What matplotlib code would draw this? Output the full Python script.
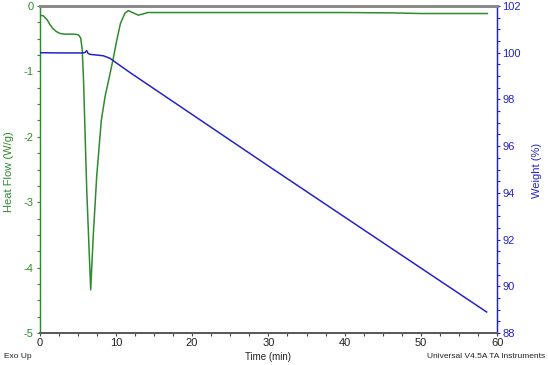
import matplotlib
matplotlib.use("Agg")
import matplotlib.pyplot as plt
from matplotlib.ticker import MultipleLocator

plt.rcParams['font.family'] = ['Liberation Sans', 'DejaVu Sans']

# Heat flow (W/g) vs time (min)
hf_time = [0.0, 0.5, 1.0, 1.4, 1.8, 2.2, 2.7, 3.2, 4.5, 5.1, 5.4, 5.6, 5.77,
           6.19, 6.71, 7.05, 7.5, 8.1, 8.6, 9.2, 9.67, 10.1, 10.6, 11.2, 11.64,
           12.2, 12.95, 13.6, 14.2, 15.0, 20.0, 30.0, 40.0, 46.0, 50.0, 58.7]
hf_vals = [-0.14, -0.15, -0.21, -0.29, -0.35, -0.39, -0.42, -0.43, -0.43,
           -0.44, -0.49, -0.67, -1.13, -2.81, -4.34, -3.5, -2.6, -1.75,
           -1.38, -1.06, -0.80, -0.54, -0.27, -0.11, -0.07, -0.10, -0.14,
           -0.12, -0.10, -0.10, -0.10, -0.10, -0.10, -0.105, -0.115, -0.115]

# Weight (%) vs time (min)
wt_time = [0.0, 3.0, 5.7, 5.96, 6.19, 6.36, 6.62, 8.36, 9.24, 10.0, 11.0,
           12.0, 13.0, 30.0, 45.0, 58.6]
wt_vals = [100.0, 99.99, 99.99, 100.01, 100.09, 99.97, 99.93, 99.87, 99.76,
           99.58, 99.35, 99.12, 98.9, 95.15, 91.87, 88.9]

x_ticks = [0, 10, 20, 30, 40, 50, 60]
hf_ticks = [0, -1, -2, -3, -4, -5]
wt_ticks = [88, 90, 92, 94, 96, 98, 100, 102]

green = '#2e8b2e'
blue = '#2323c8'

fig = plt.figure(figsize=(5.48, 3.65), dpi=100)
ax = fig.add_axes([39.5 / 548, 1 - 333 / 365, (497.3 - 39.5) / 548, (333 - 6) / 365])
ax2 = ax.twinx()

ax.plot(hf_time, hf_vals, color=green, lw=1.1, zorder=3)
ax2.plot(wt_time, wt_vals, color=blue, lw=1.1, zorder=3)

ax.set_xlim(0, 60)
ax.set_ylim(-5, 0)
ax2.set_ylim(88, 102)

ax.set_xticks(x_ticks)
ax.set_xticklabels([str(v) for v in x_ticks])
ax.xaxis.set_minor_locator(MultipleLocator(2.5))
ax.set_yticks(hf_ticks)
ax.set_yticklabels([str(v) for v in hf_ticks])
ax.yaxis.set_minor_locator(MultipleLocator(0.25))
ax2.set_yticks(wt_ticks)
ax2.set_yticklabels([str(v) for v in wt_ticks])
ax2.yaxis.set_minor_locator(MultipleLocator(0.5))

for a in (ax, ax2):
    a.spines['top'].set_color('#8a8a8a')
    a.spines['top'].set_linewidth(2.0)
    a.spines['bottom'].set_color('#5a5a5a')
    a.spines['bottom'].set_linewidth(1.3)
    a.spines['left'].set_color(green)
    a.spines['right'].set_color(blue)
    a.spines['left'].set_linewidth(0.9)
    a.spines['right'].set_linewidth(0.9)

ax.tick_params(axis='x', which='major', length=2.5, width=0.8, color='#444444',
               labelsize=8, pad=1, labelcolor='#222222')
ax.tick_params(axis='x', which='minor', length=2, width=0.8, color='#444444')
ax.tick_params(axis='y', which='major', length=2.5, width=0.8, color=green,
               labelsize=8, labelcolor=green, pad=2)
ax.tick_params(axis='y', which='minor', length=2, width=0.8, color=green)
ax2.tick_params(axis='y', which='major', length=2.5, width=0.8, color=blue,
                labelsize=8, labelcolor=blue, pad=1)
ax2.tick_params(axis='y', which='minor', length=2, width=0.8, color=blue)

fig.text(9 / 548, 1 - 172 / 365, 'Heat Flow (W/g)', rotation=90, color=green,
         fontsize=8, ha='center', va='center')
fig.text(537 / 548, 1 - 170 / 365, 'Weight (%)', rotation=90, color=blue,
         fontsize=8, ha='center', va='center')
fig.text(268 / 548, 1 - 357 / 365, 'Time (min)', fontsize=7, ha='center',
         va='center', color='#222222')
fig.text(4 / 548, 1 - 356 / 365, 'Exo Up', fontsize=6, ha='left', va='center',
         color='#222222')
fig.text(545 / 548, 1 - 357 / 365, 'Universal V4.5A TA Instruments', fontsize=6,
         ha='right', va='center', color='#222222')

fig.savefig('out.png', dpi=100)
